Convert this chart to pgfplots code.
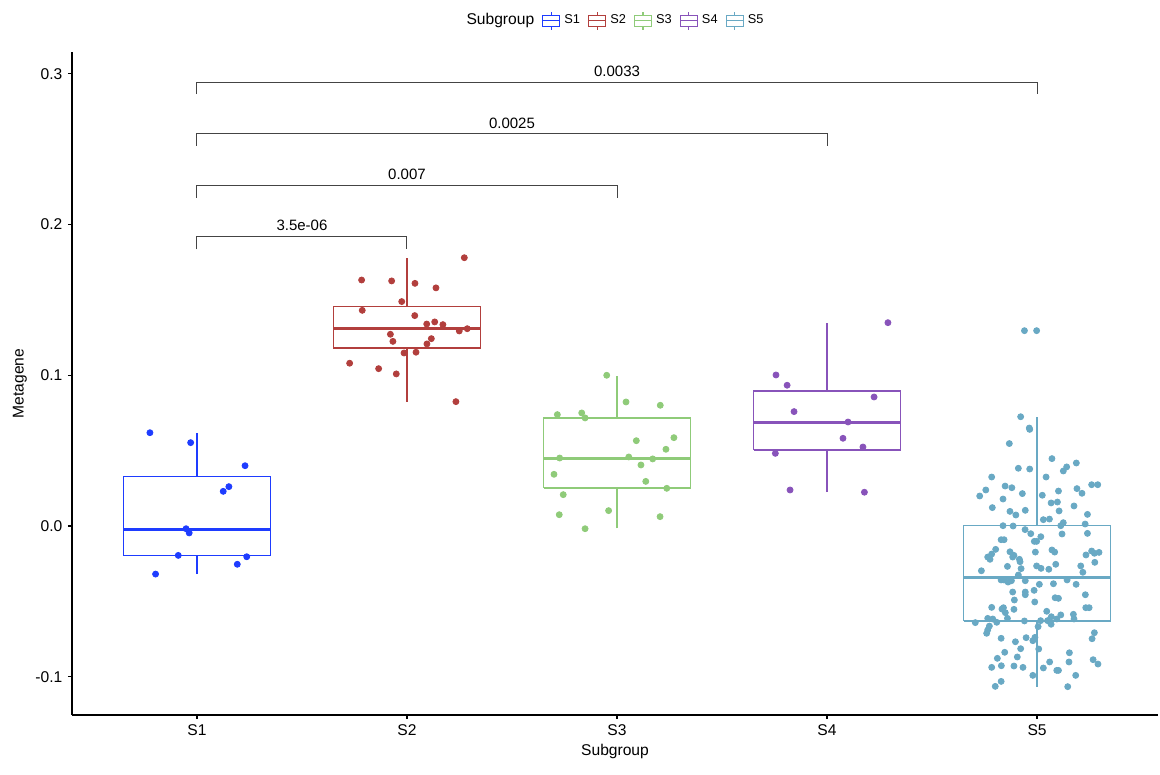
\documentclass[border=0pt]{standalone}
\usepackage{pgfplots}
\pgfplotsset{compat=1.18}
\usepackage{fontspec}
\setmainfont{Liberation Sans}

\definecolor{c1}{HTML}{1E3CFF}
\definecolor{c2}{HTML}{B23F3D}
\definecolor{c3}{HTML}{8FCB79}
\definecolor{c4}{HTML}{8853BA}
\definecolor{c5}{HTML}{69A9C4}
\definecolor{brk}{HTML}{444444}

\pgfplotsset{
  boxglyph/.style={legend image code/.code={
    \draw[##1,line width=0.6pt] (0pt,-2.75pt) rectangle (8.5pt,2.75pt);
    \draw[##1,line width=0.6pt] (0pt,0pt) -- (8.5pt,0pt);
    \draw[##1,line width=0.6pt] (4.25pt,2.75pt) -- (4.25pt,4.4pt);
    \draw[##1,line width=0.6pt] (4.25pt,-2.75pt) -- (4.25pt,-4.4pt);
  }},
  bx/.style={no marks, fill=white, line width=0.7pt},
  wh/.style={no marks, line width=0.7pt},
  med/.style={no marks, line width=1.5pt},
  pts/.style={only marks, mark=*, mark size=1.5pt},
  brkt/.style={brk, line width=0.5pt, no marks},
}

\begin{document}
\begin{tikzpicture}
\begin{axis}[
  at={(0,0)}, anchor=south west,
  scale only axis, width=543pt, height=331.5pt,
  xmin=0.405, xmax=5.576, ymin=-0.1254, ymax=0.3145,
  axis x line*=bottom, axis y line*=left,
  axis line style={line width=0.6pt},
  tick style={black, line width=0.6pt},
  tick align=outside, major tick length=2pt,
  xtick={1,2,3,4,5}, xticklabels={S1,S2,S3,S4,S5},
  ytick={-0.1,0,0.1,0.2,0.3}, yticklabels={-0.1,0.0,0.1,0.2,0.3},
  ticklabel style={font=\fontsize{7.8}{9}\selectfont},
  xticklabel shift=-0.5pt, yticklabel shift=-0.7pt,
  xlabel={Subgroup}, ylabel={Metagene},
  label style={font=\fontsize{7.8}{9}\selectfont},
  xlabel style={at={(axis description cs:0.5,-0.0543)}, anchor=center},
  ylabel style={at={(axis description cs:-0.0479,0.5)}, anchor=center},
  legend columns=-1,
  legend style={at={(0.5,1.047)}, anchor=center, draw=none, fill=none,
    font=\fontsize{6.4}{7.5}\selectfont,
    /tikz/every even column/.append style={column sep=2pt}},
  clip=false,
]
% legend entries
\addlegendimage{empty legend}
\addlegendentry{\fontsize{7.8}{9}\selectfont Subgroup}
\addlegendimage{boxglyph, c1}\addlegendentry{S1}
\addlegendimage{boxglyph, c2}\addlegendentry{S2}
\addlegendimage{boxglyph, c3}\addlegendentry{S3}
\addlegendimage{boxglyph, c4}\addlegendentry{S4}
\addlegendimage{boxglyph, c5}\addlegendentry{S5}

% boxes: whiskers, box (q1..q3), median
% S1: lw -0.0319, q1 -0.0197, med -0.0020, q3 0.0330, uw 0.0615
\addplot[wh, c1] coordinates {(1,-0.0319) (1,-0.0197)};
\addplot[wh, c1] coordinates {(1,0.0330) (1,0.0615)};
\addplot[bx, draw=c1] coordinates {(0.65,-0.0197) (1.35,-0.0197) (1.35,0.0330) (0.65,0.0330) (0.65,-0.0197)};
\addplot[med, c1] coordinates {(0.65,-0.0020) (1.35,-0.0020)};
% S2: lw 0.0825, q1 0.1181, med 0.1309, q3 0.1458, uw 0.1776
\addplot[wh, c2] coordinates {(2,0.0825) (2,0.1181)};
\addplot[wh, c2] coordinates {(2,0.1458) (2,0.1776)};
\addplot[bx, draw=c2] coordinates {(1.65,0.1181) (2.35,0.1181) (2.35,0.1458) (1.65,0.1458) (1.65,0.1181)};
\addplot[med, c2] coordinates {(1.65,0.1309) (2.35,0.1309)};
% S3: lw -0.0015, q1 0.0252, med 0.0451, q3 0.0717, uw 0.0998
\addplot[wh, c3] coordinates {(3,-0.0015) (3,0.0252)};
\addplot[wh, c3] coordinates {(3,0.0717) (3,0.0998)};
\addplot[bx, draw=c3] coordinates {(2.65,0.0252) (3.35,0.0252) (3.35,0.0717) (2.65,0.0717) (2.65,0.0252)};
\addplot[med, c3] coordinates {(2.65,0.0451) (3.35,0.0451)};
% S4: lw 0.0224, q1 0.0504, med 0.0690, q3 0.0896, uw 0.1345
\addplot[wh, c4] coordinates {(4,0.0224) (4,0.0504)};
\addplot[wh, c4] coordinates {(4,0.0896) (4,0.1345)};
\addplot[bx, draw=c4] coordinates {(3.65,0.0504) (4.35,0.0504) (4.35,0.0896) (3.65,0.0896) (3.65,0.0504)};
\addplot[med, c4] coordinates {(3.65,0.0690) (4.35,0.0690)};
% S5: lw -0.1066, q1 -0.0630, med -0.0345, q3 0.0002, uw 0.0721
\addplot[wh, c5] coordinates {(5,-0.1066) (5,-0.0630)};
\addplot[wh, c5] coordinates {(5,0.0002) (5,0.0721)};
\addplot[bx, draw=c5] coordinates {(4.65,-0.0630) (5.35,-0.0630) (5.35,0.0002) (4.65,0.0002) (4.65,-0.0630)};
\addplot[med, c5] coordinates {(4.65,-0.0345) (5.35,-0.0345)};

% jittered points
\addplot[pts, c1] coordinates {
(0.776,0.0619) (0.970,0.0553) (1.229,0.0400) (1.152,0.0261) (1.125,0.0230)
(0.948,-0.0018) (0.963,-0.0046) (0.911,-0.0195) (1.237,-0.0204) (1.192,-0.0254)
(0.803,-0.0319)};
\addplot[pts, c2] coordinates {
(2.273,0.1780) (1.784,0.1632) (1.927,0.1626) (2.038,0.1610) (2.138,0.1580)
(1.975,0.1489) (1.787,0.1431) (2.037,0.1396) (2.094,0.1340) (2.132,0.1354)
(2.171,0.1336) (2.249,0.1294) (2.287,0.1309) (1.921,0.1272) (1.933,0.1225)
(2.116,0.1243) (2.095,0.1208) (1.986,0.1148) (2.043,0.1153) (1.727,0.1080)
(1.865,0.1044) (1.949,0.1009) (2.233,0.0825)};
\addplot[pts, c3] coordinates {
(2.951,0.1000) (3.043,0.0823) (3.206,0.0801) (2.716,0.0739) (2.832,0.0750)
(2.848,0.0717) (3.271,0.0586) (3.092,0.0566) (3.233,0.0509) (2.727,0.0451)
(3.056,0.0458) (3.170,0.0445) (3.114,0.0405) (2.700,0.0343) (3.137,0.0296)
(3.237,0.0250) (2.744,0.0208) (2.960,0.0102) (2.725,0.0075) (3.205,0.0062)
(2.848,-0.0018)};
\addplot[pts, c4] coordinates {
(4.290,0.1349) (3.757,0.1002) (3.810,0.0934) (4.224,0.0856) (3.843,0.0759)
(4.100,0.0690) (4.076,0.0582) (4.171,0.0524) (3.754,0.0482) (3.824,0.0239)
(4.178,0.0224)};
\addplot[pts, c5] coordinates {
(4.940,0.1296) (4.998,0.1296) (4.922,0.0725) (4.963,0.0650) (4.965,0.0641)
(4.868,0.0547) (5.071,0.0447) (5.187,0.0418) (5.141,0.0392) (5.125,0.0365)
(4.911,0.0383) (4.965,0.0378) (4.784,0.0325) (5.043,0.0325) (5.260,0.0274)
(5.289,0.0274) (4.848,0.0265) (4.880,0.0254) (4.756,0.0239) (5.190,0.0248)
(5.214,0.0217) (5.102,0.0232) (4.930,0.0215) (5.025,0.0204) (4.727,0.0199)
(4.838,0.0179) (5.067,0.0153) (5.097,0.0159) (4.787,0.0122) (5.176,0.0133)
(4.871,0.0097) (4.944,0.0104) (5.105,0.0100) (4.899,0.0073) (5.240,0.0077)
(5.030,0.0042) (5.059,0.0046) (5.125,0.0022) (5.113,0.0002) (4.838,0.0002)
(4.886,0.0000) (5.229,0.0013)
(4.943,-0.0024) (4.970,-0.0051) (5.018,-0.0071) (5.240,-0.0049) (5.119,-0.0053)
(4.829,-0.0091) (4.843,-0.0091) (4.987,-0.0102) (4.998,-0.0102) (4.803,-0.0155)
(4.871,-0.0171) (4.890,-0.0195) (4.884,-0.0206) (4.784,-0.0186) (4.765,-0.0206)
(4.776,-0.0221) (4.992,-0.0173) (5.071,-0.0159) (5.084,-0.0173) (5.233,-0.0192)
(5.260,-0.0166) (5.273,-0.0181) (5.295,-0.0175) (5.275,-0.0241) (4.916,-0.0221)
(4.919,-0.0237) (4.859,-0.0268) (4.924,-0.0283) (4.998,-0.0265) (5.019,-0.0281)
(5.056,-0.0287) (5.089,-0.0254) (5.208,-0.0265) (5.218,-0.0307) (4.735,-0.0297)
(4.911,-0.0325) (4.829,-0.0358) (4.843,-0.0358) (4.862,-0.0372) (4.878,-0.0363)
(4.944,-0.0363) (5.011,-0.0387) (5.078,-0.0383) (5.143,-0.0358) (5.186,-0.0387)
(4.884,-0.0438) (4.944,-0.0438) (4.944,-0.0456) (4.986,-0.0427) (4.892,-0.0491)
(4.989,-0.0504) (5.086,-0.0476) (5.102,-0.0480) (5.230,-0.0456) (4.784,-0.0540)
(4.833,-0.0551) (4.840,-0.0542) (4.849,-0.0575) (4.890,-0.0553) (5.046,-0.0566)
(5.232,-0.0542) (5.248,-0.0542) (4.765,-0.0613) (4.789,-0.0617) (4.808,-0.0639)
(4.859,-0.0613) (4.706,-0.0641) (4.940,-0.0630) (5.017,-0.0628) (5.050,-0.0628)
(5.067,-0.0652) (5.068,-0.0602) (5.094,-0.0617) (5.113,-0.0590) (5.173,-0.0586)
(5.176,-0.0617) (4.773,-0.0664) (4.765,-0.0690) (4.760,-0.0712) (5.005,-0.0668)
(5.273,-0.0708) (5.262,-0.0748) (4.829,-0.0745) (4.948,-0.0741) (4.980,-0.0761)
(4.990,-0.0739) (4.897,-0.0768) (4.922,-0.0814) (5.008,-0.0816) (4.846,-0.0838)
(5.154,-0.0841) (4.906,-0.0869) (4.811,-0.0878) (5.267,-0.0887) (5.290,-0.0916)
(5.060,-0.0902) (5.152,-0.0902) (4.784,-0.0938) (4.830,-0.0927) (4.890,-0.0929)
(4.933,-0.0938) (5.030,-0.0942) (5.094,-0.0958) (5.102,-0.0958) (5.184,-0.0991)
(4.980,-0.0991) (4.829,-0.1031) (4.801,-0.1064) (5.146,-0.1066)};

% significance brackets
\addplot[brkt] coordinates {(1,0.1836) (1,0.1920) (2,0.1920) (2,0.1836)};
\addplot[brkt] coordinates {(1,0.2179) (1,0.2258) (3,0.2258) (3,0.2179)};
\addplot[brkt] coordinates {(1,0.2522) (1,0.2601) (4,0.2601) (4,0.2522)};
\addplot[brkt] coordinates {(1,0.2865) (1,0.2944) (5,0.2944) (5,0.2865)};
\node[font=\fontsize{7.5}{9}\selectfont] at (axis cs:1.5,0.1993) {3.5e-06};
\node[font=\fontsize{7.5}{9}\selectfont] at (axis cs:2.0,0.2334) {0.007};
\node[font=\fontsize{7.5}{9}\selectfont] at (axis cs:2.5,0.2674) {0.0025};
\node[font=\fontsize{7.5}{9}\selectfont] at (axis cs:3.0,0.3017) {0.0033};
\end{axis}
\pgfresetboundingbox
\path (-36pt,-30pt) rectangle (544pt,357.5pt);
\end{tikzpicture}
\end{document}
